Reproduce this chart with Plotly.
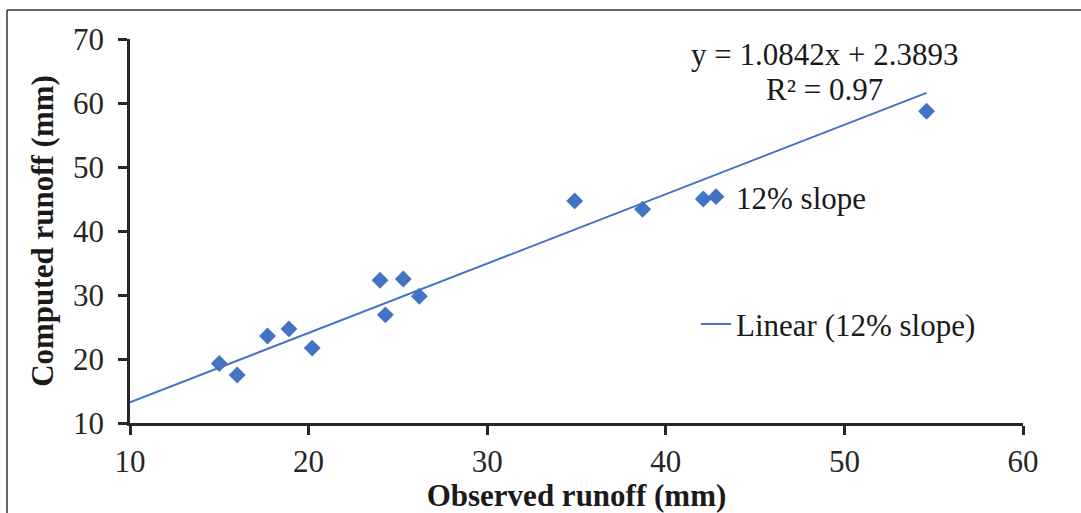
import plotly.graph_objects as go

observed = [15.0, 16.0, 17.7, 18.9, 20.2, 24.0, 24.3, 25.3, 26.2, 34.9, 38.7, 42.1, 54.6]
computed = [19.3, 17.5, 23.6, 24.7, 21.7, 32.3, 26.9, 32.5, 29.8, 44.7, 43.4, 45.0, 58.7]
slope_coef = 1.0842
intercept = 2.3893
r2 = 0.97
series_name = "12% slope"
trend_name = "Linear (12% slope)"
x_ticks = [10, 20, 30, 40, 50, 60]
y_ticks = [10, 20, 30, 40, 50, 60, 70]

BLUE = "#4472C4"
FONT = "Liberation Serif"
FS = 31

trend_x = [10, max(observed)]
trend_y = [slope_coef * v + intercept for v in trend_x]

fig = go.Figure()
fig.add_trace(go.Scatter(
    x=observed, y=computed, mode="markers", name=series_name,
    marker=dict(symbol="diamond", size=13, color=BLUE),
    legendgroup="a",
))
fig.add_trace(go.Scatter(
    x=trend_x, y=trend_y, mode="lines", name=trend_name,
    line=dict(color=BLUE, width=2),
    legendgroup="b",
))

axis_common = dict(
    showgrid=False, zeroline=False, showline=True, linecolor="#262626", linewidth=2.5,
    ticks="outside", ticklen=9, tickwidth=2.5, tickcolor="#262626",
    tickfont=dict(family=FONT, size=FS, color="#262626"),
    automargin=False,
)
fig.update_xaxes(range=[10, 60], tickvals=x_ticks, ticklabelstandoff=0,
                 title=dict(text="<b>Observed runoff (mm)</b>", font=dict(family=FONT, size=FS, color="#1a1a1a"), standoff=10),
                 **axis_common)
fig.update_yaxes(range=[10, 70], tickvals=y_ticks, ticklabelstandoff=8,
                 title=dict(text="<b>Computed runoff (mm)</b>", font=dict(family=FONT, size=FS, color="#1a1a1a"), standoff=11),
                 **axis_common)

eq_font = dict(family=FONT, size=FS, color="#1a1a1a")
fig.add_annotation(
    xref="paper", yref="paper", x=(824 - 130) / 893, y=(423 - 54) / 384,
    text=f"y = {slope_coef}x + {intercept}",
    showarrow=False, xanchor="center", yanchor="middle", font=eq_font,
)
fig.add_annotation(
    xref="paper", yref="paper", x=(824 - 130) / 893, y=(423 - 89) / 384,
    text=f"R² = {r2}",
    showarrow=False, xanchor="center", yanchor="middle", font=eq_font,
)

# outer chart frame (top and left edges visible)
fig.add_shape(type="line", xref="paper", yref="paper", x0=(7 - 130) / 893, x1=(1081 - 130) / 893 + 0.01,
              y0=(423 - 10) / 384, y1=(423 - 10) / 384, line=dict(color="#333333", width=1.5))
fig.add_shape(type="line", xref="paper", yref="paper", x0=(7 - 130) / 893, x1=(7 - 130) / 893,
              y0=(423 - 10) / 384, y1=(423 - 520) / 384, line=dict(color="#333333", width=1.5))

fig.update_layout(
    width=1081, height=513,
    margin=dict(l=130, r=58, t=39, b=90, autoexpand=False),
    paper_bgcolor="white", plot_bgcolor="white",
    showlegend=True,
    legend=dict(x=(696 - 130) / 893, y=(423 - 170) / 384, xanchor="left", yanchor="top",
                bgcolor="rgba(0,0,0,0)", font=dict(family=FONT, size=FS, color="#1a1a1a"),
                tracegroupgap=84),
)

fig.write_html("out.html")
